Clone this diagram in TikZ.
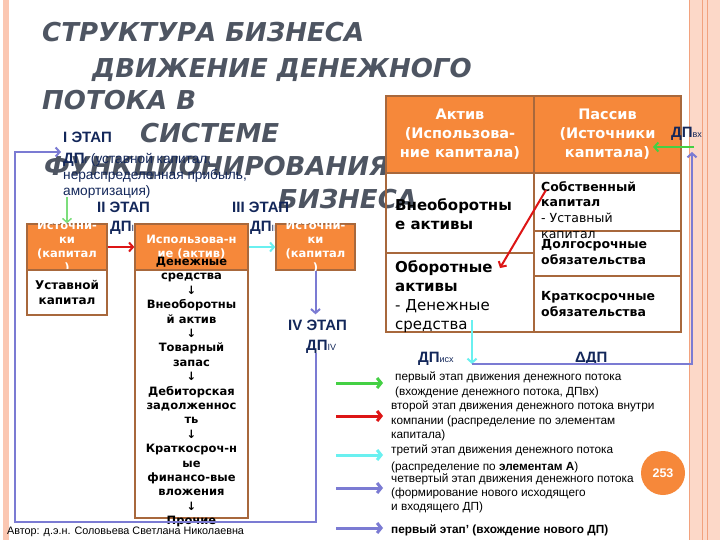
\documentclass[tikz,border=0pt]{standalone}
\usepackage{fontspec}
\setmainfont{DejaVu Sans}
\newfontfamily\arialf{Liberation Sans}
\usetikzlibrary{arrows.meta}

\definecolor{boxorange}{HTML}{F6883A}
\definecolor{boxbrown}{HTML}{A8683C}
\definecolor{titlegray}{HTML}{4E5562}
\definecolor{stagenavy}{HTML}{13275A}
\definecolor{flowblue}{HTML}{7B7BD3}
\definecolor{flowgreen}{HTML}{44D044}
\definecolor{flowred}{HTML}{DD1515}
\definecolor{flowcyan}{HTML}{6AF0F0}
\definecolor{edgepink}{HTML}{FBC7B2}
\definecolor{edgepinklight}{HTML}{FCD8C8}
\definecolor{edgeline}{HTML}{F2A27E}

\tikzset{
  orangebox/.style={draw=boxbrown, line width=1.3pt, fill=boxorange, inner sep=0pt},
  whitebox/.style={draw=boxbrown, line width=1.3pt, fill=white, inner sep=0pt},
  cell/.style={draw=boxbrown, line width=1.3pt, inner sep=0pt},
  boxtext/.style={text=white, align=center, inner sep=0pt, font=\bfseries\fontsize{11.5}{14.2}\selectfont},
  celltxt/.style={anchor=north west, inner sep=0pt, align=left},
  stagelbl/.style={anchor=base west, inner sep=0pt, text=stagenavy, font=\arialf\bfseries\fontsize{15}{15}\selectfont},
  flow/.style={line width=2pt, -{Straight Barb[length=4pt,width=9pt]}},
  legendflow/.style={line width=3pt, -{Straight Barb[length=4pt,width=10pt]}},
  legendtxt/.style={anchor=north west, inner sep=0pt, align=left, font=\arialf\fontsize{11.8}{14.5}\selectfont},
  titleline/.style={anchor=base west, inner sep=0pt, text=titlegray, font=\bfseries\itshape\fontsize{26}{26}\selectfont}
}
\newcommand{\sublbl}[1]{{\mdseries\fontsize{9}{9}\selectfont #1}}

\begin{document}
\begin{tikzpicture}[x=1pt, y=-1pt]
  % page and side stripes
  \fill[white] (0,0) rectangle (720,540);
  \useasboundingbox (0,0) rectangle (720,540);
  \fill[edgepink] (3,0) rectangle (9,540);
  \fill[edgepinklight] (689,0) rectangle (720,540);
  \draw[edgeline, line width=0.6pt] (689,0) -- (689,540);
  \draw[edgeline, line width=1pt] (702,0) -- (702,540);
  \draw[edgeline, line width=1pt] (707,0) -- (707,540);

  % title
  \node[titleline] (title1) at (42,42) {СТРУКТУРА БИЗНЕСА};
  \node[titleline] (title2) at (92,78) {ДВИЖЕНИЕ ДЕНЕЖНОГО};
  \node[titleline] (title3) at (42,110) {ПОТОКА В};
  \node[titleline] (title4) at (140,143) {СИСТЕМЕ};
  \node[titleline] (title5) at (44,176) {ФУНКЦИОНИРОВАНИЯ};
  \node[titleline] (title6) at (278,209) {БИЗНЕСА};

  % balance table
  \node[cell, fill=boxorange, minimum width=148pt, minimum height=77pt, text=white, align=center,
        font=\bfseries\fontsize{14.5}{19}\selectfont] (hAsset) at (460,134.5) {Актив\\(Использова-\\ние капитала)};
  \node[cell, fill=boxorange, minimum width=147pt, minimum height=77pt, text=white, align=center,
        font=\bfseries\fontsize{14.5}{19}\selectfont] (hLiab) at (607.5,134.5) {Пассив\\(Источники\\капитала)};
  \node[cell, minimum width=148pt, minimum height=80pt] (cFixed) at (460,213) {};
  \node[cell, minimum width=148pt, minimum height=79pt] (cCurrent) at (460,292.5) {};
  \node[cell, minimum width=147pt, minimum height=58pt] (cEquity) at (607.5,202) {};
  \node[cell, minimum width=147pt, minimum height=45pt] (cLong) at (607.5,253.5) {};
  \node[cell, minimum width=147pt, minimum height=56pt] (cShort) at (607.5,304) {};
  \node[celltxt, font=\bfseries\fontsize{15}{19.5}\selectfont] (tFixed) at (395,198) {Внеоборотны\\е активы};
  \node[celltxt, font=\fontsize{15}{19.3}\selectfont] (tCurrent) at (395,260) {\textbf{Оборотные}\\\textbf{активы}\\- Денежные\\средства};
  \node[celltxt, font=\fontsize{12.5}{15.7}\selectfont] (tEquity) at (541,181) {\textbf{Собственный}\\\textbf{капитал}\\- Уставный\\капитал};
  \node[celltxt, font=\bfseries\fontsize{12.5}{16.5}\selectfont] (tLong) at (541,239) {Долгосрочные\\обязательства};
  \node[celltxt, font=\bfseries\fontsize{12.5}{16.5}\selectfont] (tShort) at (541,291) {Краткосрочные\\обязательства};

  % stage labels
  \node[stagelbl] (stage1) at (63,143) {I ЭТАП};
  \node[anchor=north west, inner sep=0pt, align=left, text=stagenavy,
        font=\arialf\fontsize{13.7}{16}\selectfont] (dp1) at (63,153)
        {{\bfseries\fontsize{15}{16}\selectfont ДП}\sublbl{I} (уставной капитал,\\нераспределенная прибыль,\\амортизация)};
  \node[stagelbl] (stage2) at (97,212) {II ЭТАП};
  \node[stagelbl] (dp2) at (110,232) {ДП\sublbl{II}};
  \node[stagelbl] (stage3) at (232,212) {III ЭТАП};
  \node[stagelbl] (dp3) at (250,232) {ДП\sublbl{III}};
  \node[stagelbl] (stage4) at (288,330) {IV ЭТАП};
  \node[stagelbl] (dp4) at (306,350) {ДП\sublbl{IV}};
  \node[stagelbl] (dpOut) at (418,362) {ДП\sublbl{исх}};
  \node[stagelbl] (dDP) at (575,362) {ΔДП};
  \node[stagelbl] (dpIn) at (671,138) {ДП\sublbl{вх}};

  % sources -> use -> sources
  \node[orangebox, minimum width=80pt, minimum height=46pt] (srcL) at (67,247) {};
  \begin{scope}
    \clip (srcL.north west) rectangle (srcL.south east);
    \node[boxtext] (srcLtxt) at (srcL.center) {Источни-\\ки\\(капитал\\)};
  \end{scope}
  \node[whitebox, minimum width=80pt, minimum height=45pt, align=center,
        font=\bfseries\fontsize{12}{15}\selectfont] (capL) at (67,292.5) {Уставной\\капитал};

  \node[orangebox, boxtext, minimum width=113pt, minimum height=46pt] (useHead) at (191.5,247) {Использова-н\\ие (актив)};
  \node[whitebox, minimum width=113pt, minimum height=248pt] (useBody) at (191.5,394) {};
  \node[anchor=north, inner sep=0pt, align=center, font=\bfseries\fontsize{11.5}{14.4}\selectfont] (useList) at (191.5,257)
    {Денежные\\средства\\↓\\Внеоборотны\\й актив\\↓\\Товарный\\запас\\↓\\Дебиторская\\задолженнос\\ть\\↓\\Краткосроч-н\\ые\\финансо-вые\\вложения\\↓\\Прочие};

  \node[orangebox, minimum width=79pt, minimum height=46pt] (srcR) at (315.5,247) {};
  \begin{scope}
    \clip (srcR.north west) rectangle (srcR.south east);
    \node[boxtext] (srcRtxt) at (srcR.center) {Источни-\\ки\\(капитал\\)};
  \end{scope}

  % flows
  \coordinate (greenTop) at (67,197);
  \coordinate (loopBL) at (15,522);
  \coordinate (loopTL) at (15,152);
  \coordinate (dp1in) at (61,152);
  \coordinate (cashEnd) at (472,320);
  \coordinate (outTip) at (472,364);
  \coordinate (inTip) at (692,152);
  \coordinate (greenStart) at (694,147);
  \coordinate (liabIn) at (653,147);
  \coordinate (redStart) at (546,190);
  \coordinate (redEnd) at (500,268);

  \draw[flow, flowgreen!70, line width=1.5pt] (greenTop) -- (srcL.north);
  \draw[flow, flowred] (srcL.east) -- (useHead.west);
  \draw[flow, flowcyan] (useHead.east) -- (srcR.west);
  \draw[flow, flowblue, shorten >=5pt] (srcR.south) -- (srcR.south |- stage4.north);
  \draw[flow, flowblue] (srcR.south |- dp4.south) -- (srcR.south |- loopBL) -- (loopBL) -- (loopTL) -- (dp1in);
  \draw[flow, flowcyan] (cashEnd) -- (outTip);
  \draw[flow, flowblue] (outTip) -| (inTip);
  \draw[flow, flowgreen] (greenStart) -- (liabIn);
  \draw[flow, flowred] (redStart) -- (redEnd);

  % legend
  \coordinate (lgA0) at (336,383); \coordinate (lgA1) at (383,383);
  \coordinate (lgB0) at (336,416); \coordinate (lgB1) at (383,416);
  \coordinate (lgC0) at (336,455); \coordinate (lgC1) at (383,455);
  \coordinate (lgD0) at (336,488); \coordinate (lgD1) at (383,488);
  \coordinate (lgE0) at (336,528); \coordinate (lgE1) at (383,528);
  \draw[legendflow, flowgreen] (lgA0) -- (lgA1);
  \draw[legendflow, flowred] (lgB0) -- (lgB1);
  \draw[legendflow, flowcyan] (lgC0) -- (lgC1);
  \draw[legendflow, flowblue] (lgD0) -- (lgD1);
  \draw[legendflow, flowblue] (lgE0) -- (lgE1);
  \node[legendtxt, font=\arialf\fontsize{11.8}{15}\selectfont] (lgTxtA) at (395,372) {первый этап движения денежного потока\\(вхождение денежного потока, ДПвх)};
  \node[legendtxt] (lgTxtB) at (391,401) {второй этап движения денежного потока внутри\\компании (распределение по элементам\\капитала)};
  \node[legendtxt, font=\arialf\fontsize{11.8}{16.5}\selectfont] (lgTxtC) at (391,445) {третий этап движения денежного потока\\(распределение по \textbf{элементам А})};
  \node[legendtxt, font=\arialf\fontsize{11.8}{14}\selectfont] (lgTxtD) at (391,474) {четвертый этап движения денежного потока\\(формирование нового  исходящего\\и входящего ДП)};
  \node[legendtxt, font=\arialf\bfseries\fontsize{11.8}{14}\selectfont] (lgTxtE) at (391,525) {первый этап’ (вхождение нового ДП)};

  % page number and author
  \node[circle, fill=boxorange, minimum size=44pt, inner sep=0pt, text=white,
        font=\arialf\bfseries\fontsize{12.5}{12.5}\selectfont] (pageNo) at (663,473) {253};
  \node[anchor=base west, inner sep=0pt, font=\arialf\fontsize{10.8}{10.8}\selectfont] (author) at (7,534) {Автор: д.э.н. Соловьева Светлана Николаевна};
\end{tikzpicture}
\end{document}
